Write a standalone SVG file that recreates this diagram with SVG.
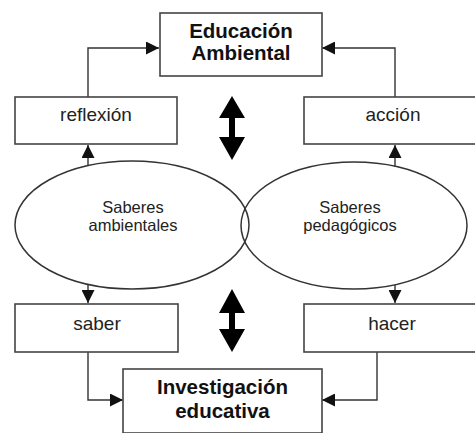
<svg xmlns="http://www.w3.org/2000/svg" width="475" height="433" viewBox="0 0 475 433">
<defs>
<marker id="ah" viewBox="0 0 12 12" refX="12" refY="6" markerWidth="13" markerHeight="13" markerUnits="userSpaceOnUse" orient="auto">
<path d="M0,0 L12,6 L0,12 Z" fill="#111"/>
</marker>
<style>
.box{fill:#fff;stroke:#444;stroke-width:1.6}
.ell{fill:none;stroke:#333;stroke-width:1.5}
.con{fill:none;stroke:#333;stroke-width:1.4}
.t{font-family:"Liberation Sans",Arial,sans-serif;fill:#222;text-anchor:middle}
.b{font-weight:bold;font-size:20.5px;fill:#111}
.r{font-size:19px}
.s{font-size:16.5px}
.big{fill:#000}
</style>
</defs>
<rect width="475" height="433" fill="#fff"/>
<g id="connectors">
<polyline class="con" points="88,97 88,48 159,48" marker-end="url(#ah)"/>
<polyline class="con" points="395,97 395,48 322,48" marker-end="url(#ah)"/>
<line class="con" x1="88" y1="166" x2="88" y2="145" marker-end="url(#ah)"/>
<line class="con" x1="395" y1="167" x2="395" y2="145" marker-end="url(#ah)"/>
<line class="con" x1="88" y1="284" x2="88" y2="303" marker-end="url(#ah)"/>
<line class="con" x1="395" y1="285" x2="395" y2="303" marker-end="url(#ah)"/>
<polyline class="con" points="88,352 88,400 123,400" marker-end="url(#ah)"/>
<polyline class="con" points="377,352 377,400 322,400" marker-end="url(#ah)"/>
<path class="big" d="M232,96 L245,118 L235,118 L235,137 L245,137 L232,160 L219,137 L229,137 L229,118 L219,118 Z"/>
<path class="big" d="M232,289 L245,313 L235,313 L235,329 L245,329 L232,352 L219,329 L229,329 L229,313 L219,313 Z"/>
</g>
<g id="educacion-ambiental">
<rect class="box" x="160" y="13" width="162" height="63"/>
<text class="t b" x="241" y="38">Educación</text>
<text class="t b" x="241" y="60">Ambiental</text>
</g>
<g id="reflexion">
<rect class="box" x="15" y="97" width="162" height="47"/>
<text class="t r" x="96" y="121">reflexión</text>
</g>
<g id="accion">
<rect class="box" x="304" y="97" width="180" height="47"/>
<text class="t r" x="393" y="121">acción</text>
</g>
<g id="saberes-ambientales">
<ellipse class="ell" cx="132" cy="225" rx="117" ry="64"/>
<text class="t s" x="133" y="213">Saberes</text>
<text class="t s" x="133" y="231">ambientales</text>
</g>
<g id="saberes-pedagogicos">
<ellipse class="ell" cx="354" cy="225.5" rx="113" ry="63.5"/>
<text class="t s" x="350" y="213">Saberes</text>
<text class="t s" x="350" y="231">pedagógicos</text>
</g>
<g id="saber">
<rect class="box" x="15" y="304" width="163" height="48"/>
<text class="t r" x="97" y="330">saber</text>
</g>
<g id="hacer">
<rect class="box" x="304" y="304" width="180" height="48"/>
<text class="t r" x="392" y="330">hacer</text>
</g>
<g id="investigacion-educativa">
<rect class="box" x="123" y="369" width="199" height="64"/>
<text class="t b" x="222.5" y="394">Investigación</text>
<text class="t b" x="222.5" y="418">educativa</text>
</g>
</svg>
